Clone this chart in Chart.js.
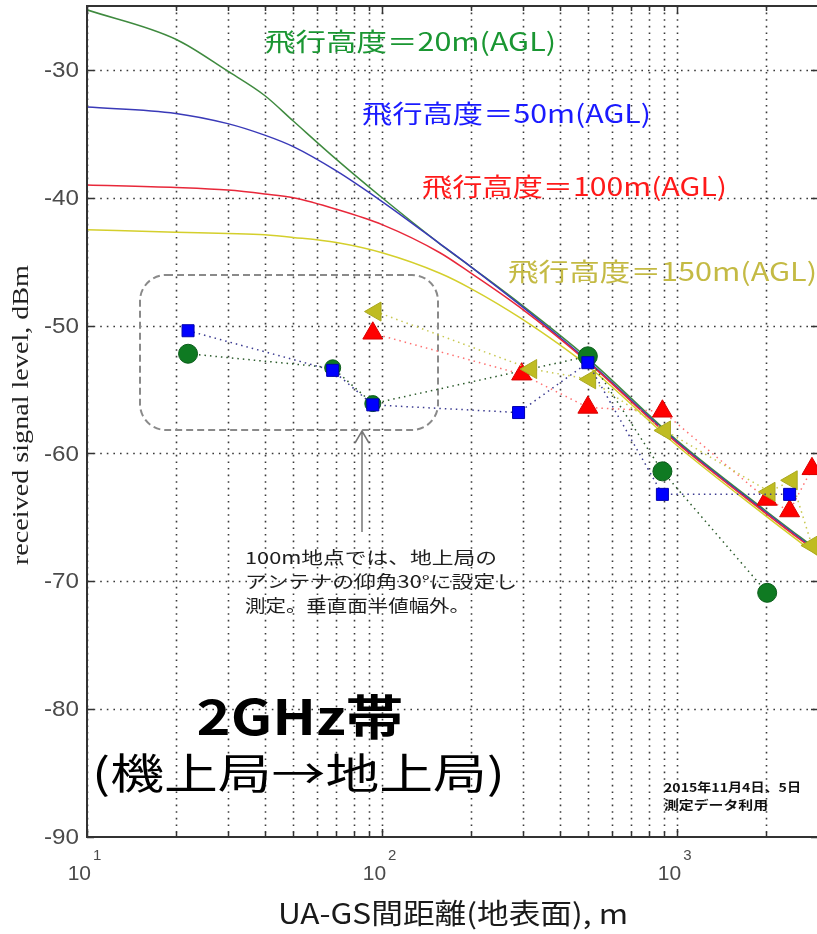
<!DOCTYPE html>
<html>
<head>
<meta charset="utf-8">
<script src="https://cdn.jsdelivr.net/npm/chart.js@4.4.1/dist/chart.umd.min.js"></script>
<style>
  html, body { margin: 0; padding: 0; overflow: hidden; background: #fff; width: 817px; height: 934px; }
  #wrap { position: relative; width: 820px; height: 934px; }
</style>
</head>
<body>
<div id="wrap"><canvas id="c" width="820" height="934"></canvas></div>
<script>
// ---- theoretical received level vs. ground distance, per flight altitude ----
const curveDist = [10, 20, 30, 40, 50, 70, 100, 157, 200, 294, 500, 1000, 2000, 3000];
const curve20m  = [-25.3, -27.6, -30.1, -32.0, -34.0, -37.0, -40.0, -43.6, -45.4, -48.3, -52.6, -59.0, -64.5, -67.6];
const curve50m  = [-32.9, -33.4, -34.2, -35.1, -36.0, -37.9, -40.3, -43.6, -45.4, -48.4, -52.8, -59.1, -64.6, -67.7];
const curve100m = [-39.0, -39.2, -39.4, -39.7, -40.0, -40.9, -42.1, -44.3, -45.9, -48.6, -52.9, -59.2, -64.7, -67.8];
const curve150m = [-42.5, -42.7, -42.8, -42.9, -43.1, -43.5, -44.3, -45.9, -47.1, -49.4, -53.2, -59.4, -64.9, -68.0];

// ---- measured levels (2015-11-04/05) ----
const dist20   = [22, 68, 93, 498, 891, 2018];
const level20  = [-52.2, -53.3, -56.1, -52.4, -61.4, -70.9];
const dist50   = [22, 68, 93, 290, 498, 891, 2404];
const level50  = [-50.4, -53.5, -56.2, -56.8, -52.9, -63.2, -63.2];
const dist100  = [93, 297, 498, 891, 2014, 2404, 2862];
const level100 = [-50.6, -53.8, -56.4, -56.7, -63.6, -64.5, -61.2];
const dist150  = [95, 320, 507, 909, 2055, 2443, 2862];
const level150 = [-48.9, -53.4, -54.2, -58.2, -63.0, -62.1, -67.2];

// ---- axes ----
const xMin = 10, xMax = 3000;
const yMin = -90, yMax = -25;
const xGridValues = [10, 20, 30, 40, 50, 60, 70, 80, 90, 100, 200, 300, 400, 500, 600, 700, 800, 900, 1000, 2000, 3000];
const xMajorValues = [10, 100, 1000];
const xMajorExp = ['1', '2', '3'];
const yTickValues = [-90, -80, -70, -60, -50, -40, -30];

const seriesLabels = ['飛行高度＝20m(AGL)', '飛行高度＝50m(AGL)', '飛行高度＝100m(AGL)', '飛行高度＝150m(AGL)'];
const xTitle = 'UA-GS間距離(地表面), m';
const yTitle = 'received signal level, dBm';
const bandTitle = '2GHz帯';
const linkTitle = '(機上局→地上局)';
const noteLines = ['100m地点では、地上局の', 'アンテナの仰角30°に設定し', '測定。垂直面半値幅外。'];
const dateLines = ['2015年11月4日、5日', '測定データ利用'];

const pts = (xs, ys) => xs.map((x, i) => ({ x, y: ys[i] }));

function curve(xs, ys, color, order) {
  return {
    data: pts(xs, ys), showLine: true, borderColor: color, borderWidth: 1.5,
    pointRadius: 0, cubicInterpolationMode: 'monotone', order
  };
}
function measured(xs, ys, o) {
  return {
    data: pts(xs, ys), showLine: true, borderColor: o.line, borderWidth: 1.5,
    borderDash: [1.5, 4], pointStyle: o.style, pointRadius: o.r, pointRotation: o.rot || 0,
    pointBackgroundColor: o.fill, pointBorderColor: o.edge, pointBorderWidth: 1, order: o.order
  };
}

const CJK = '"Noto Sans CJK JP", "Noto Sans", sans-serif';

function fitText(ctx, text, x, y, font, color, width, align) {
  ctx.save();
  ctx.font = font;
  ctx.fillStyle = color;
  ctx.textBaseline = 'middle';
  ctx.textAlign = 'left';
  const w = ctx.measureText(text).width;
  const s = width ? width / w : 1;
  const tw = w * s;
  let left = x;
  if (align === 'center') left = x - tw / 2;
  else if (align === 'right') left = x - tw;
  ctx.translate(left, y);
  ctx.scale(s, 1);
  ctx.fillText(text, 0, 0);
  ctx.restore();
}

// fixed outer margins around the plotting area
function fixBox(size) {
  return s => {
    if (s.isHorizontal()) s.height = size; else s.width = size;
    s.paddingLeft = s.paddingRight = s.paddingTop = s.paddingBottom = 0;
  };
}

const decor = {
  id: 'decor',
  beforeDatasetsDraw(chart) {
    const { ctx, chartArea: a, scales: { x, y } } = chart;
    ctx.save();
    ctx.beginPath();
    ctx.rect(a.left, a.top, a.right - a.left, a.bottom - a.top);
    ctx.clip();
    ctx.strokeStyle = '#3a3a3a';
    ctx.lineWidth = 1.6;
    ctx.setLineDash([1.6, 5]);
    xGridValues.forEach(v => {
      const px = Math.round(x.getPixelForValue(v)) + 0.5;
      ctx.beginPath(); ctx.moveTo(px, a.top); ctx.lineTo(px, a.bottom); ctx.stroke();
    });
    yTickValues.forEach(v => {
      const py = Math.round(y.getPixelForValue(v)) + 0.5;
      ctx.beginPath(); ctx.moveTo(a.left, py); ctx.lineTo(a.right, py); ctx.stroke();
    });
    ctx.restore();

    // dashed rounded callout box
    ctx.save();
    ctx.strokeStyle = '#8a8a8a';
    ctx.lineWidth = 2;
    ctx.setLineDash([7, 4]);
    const bx = 140, by = 275, bw = 298, bh = 155, r = 26;
    ctx.beginPath();
    ctx.moveTo(bx + r, by);
    ctx.lineTo(bx + bw - r, by); ctx.arcTo(bx + bw, by, bx + bw, by + r, r);
    ctx.lineTo(bx + bw, by + bh - r); ctx.arcTo(bx + bw, by + bh, bx + bw - r, by + bh, r);
    ctx.lineTo(bx + r, by + bh); ctx.arcTo(bx, by + bh, bx, by + bh - r, r);
    ctx.lineTo(bx, by + r); ctx.arcTo(bx, by, bx + r, by, r);
    ctx.closePath();
    ctx.stroke();
    // arrow pointing at the box
    ctx.setLineDash([]);
    ctx.strokeStyle = '#777';
    ctx.lineWidth = 1.5;
    ctx.beginPath();
    ctx.moveTo(362, 532); ctx.lineTo(362, 431);
    ctx.moveTo(355, 443); ctx.lineTo(362, 431); ctx.lineTo(369, 443);
    ctx.stroke();
    ctx.restore();
  },
  afterDatasetsDraw(chart) {
    const { ctx, chartArea: a, scales: { x, y } } = chart;
    ctx.save();
    // frame
    ctx.strokeStyle = '#333';
    ctx.lineWidth = 2;
    ctx.strokeRect(a.left, a.top, a.right - a.left, a.bottom - a.top);
    // inward ticks
    ctx.lineWidth = 1.5;
    xGridValues.forEach(v => {
      const px = Math.round(x.getPixelForValue(v)) + 0.5;
      const len = xMajorValues.includes(v) ? 8 : 5;
      ctx.beginPath();
      ctx.moveTo(px, a.bottom); ctx.lineTo(px, a.bottom - len);
      ctx.moveTo(px, a.top); ctx.lineTo(px, a.top + len);
      ctx.stroke();
    });
    yTickValues.forEach(v => {
      const py = Math.round(y.getPixelForValue(v)) + 0.5;
      ctx.beginPath();
      ctx.moveTo(a.left, py); ctx.lineTo(a.left + 7, py);
      ctx.moveTo(a.right, py); ctx.lineTo(a.right - 7, py);
      ctx.stroke();
    });
    ctx.restore();

    // tick labels
    yTickValues.forEach(v => {
      fitText(ctx, String(v), a.left - 8, y.getPixelForValue(v) + 1, '22px "Liberation Sans", Arial, sans-serif', '#4a4a4a', 35, 'right');
    });
    xMajorValues.forEach((v, i) => {
      const px = x.getPixelForValue(v);
      fitText(ctx, '10', px + 4, 874, '21px "Liberation Sans", Arial, sans-serif', '#4a4a4a', 0, 'right');
      fitText(ctx, xMajorExp[i], px + 6, 856, '15px "Liberation Sans", Arial, sans-serif', '#4a4a4a', 0, 'left');
    });

    // axis titles
    fitText(ctx, xTitle, 453, 913, '28px ' + CJK, '#1a1a1a', 350, 'center');
    ctx.save();
    ctx.translate(22, 415);
    ctx.rotate(-Math.PI / 2);
    fitText(ctx, yTitle, 0, 0, '24px "Liberation Serif", "DejaVu Serif", serif', '#222', 300, 'center');
    ctx.restore();

    // curve labels
    fitText(ctx, seriesLabels[0], 265, 41, '25px ' + CJK, '#1a9632', 291, 'left');
    fitText(ctx, seriesLabels[1], 362, 113, '25px ' + CJK, '#1a1aff', 289, 'left');
    fitText(ctx, seriesLabels[2], 422, 186, '25px ' + CJK, '#ff1a1a', 305, 'left');
    fitText(ctx, seriesLabels[3], 508, 271, '25px ' + CJK, '#c4ba44', 309, 'left');

    // notes
    fitText(ctx, noteLines[0], 245, 558, '17px ' + CJK, '#1e1e1e', 252, 'left');
    fitText(ctx, noteLines[1], 245, 582, '17px ' + CJK, '#1e1e1e', 272, 'left');
    fitText(ctx, noteLines[2], 245, 606, '17px ' + CJK, '#1e1e1e', 225, 'left');
    fitText(ctx, bandTitle, 300, 717, 'bold 48px ' + CJK, '#000', 207, 'center');
    fitText(ctx, linkTitle, 92, 773, '42px ' + CJK, '#000', 413, 'left');
    fitText(ctx, dateLines[0], 664, 787, 'bold 12px ' + CJK, '#111', 137, 'left');
    fitText(ctx, dateLines[1], 664, 805, 'bold 12px ' + CJK, '#111', 104, 'left');
  }
};

new Chart(document.getElementById('c'), {
  type: 'scatter',
  data: {
    datasets: [
      measured(dist50, level50, { line: '#3a3a90', style: 'rect', r: 8.5, fill: '#0000ff', edge: '#0000b0', order: 1 }),
      measured(dist150, level150, { line: '#c8c850', style: 'triangle', r: 11, rot: -90, fill: '#bfbc22', edge: '#aaa820', order: 2 }),
      measured(dist100, level100, { line: '#ff7070', style: 'triangle', r: 11.5, fill: '#ff0000', edge: '#d80000', order: 3 }),
      measured(dist20, level20, { line: '#2a5a2a', style: 'circle', r: [9.5, 8, 8, 9.5, 9.5, 9.5], fill: '#0f7a22', edge: '#0b5c1a', order: 4 }),
      curve(curveDist, curve150m, '#d4cf2c', 5),
      curve(curveDist, curve100m, '#e8283a', 6),
      curve(curveDist, curve50m, '#3a3ab8', 7),
      curve(curveDist, curve20m, '#3f8a3f', 8)
    ]
  },
  options: {
    responsive: false,
    animation: false,
    events: [],
    layout: { autoPadding: false, padding: { top: 6, right: 2, left: 0, bottom: 0 } },
    plugins: { legend: { display: false }, tooltip: { enabled: false } },
    scales: {
      x: {
        type: 'logarithmic', min: xMin, max: xMax,
        grid: { display: false }, border: { display: false },
        ticks: { display: false }, title: { display: false },
        afterFit: fixBox(97)
      },
      y: {
        type: 'linear', min: yMin, max: yMax,
        grid: { display: false }, border: { display: false },
        ticks: { display: false }, title: { display: false },
        afterFit: fixBox(87)
      }
    }
  },
  plugins: [decor]
});
</script>
</body>
</html>
